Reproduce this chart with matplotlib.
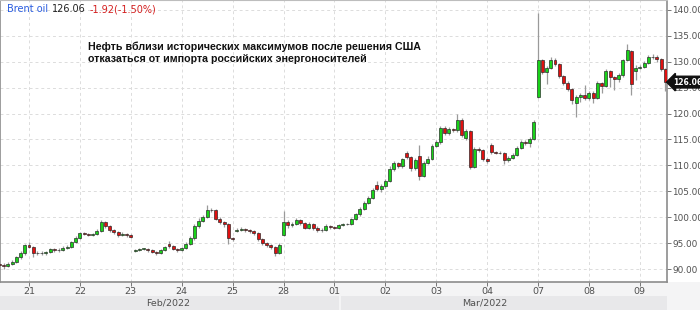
import numpy as np
import matplotlib
matplotlib.use("Agg")
import matplotlib.pyplot as plt
from matplotlib.patches import Rectangle

# ---- data (2-hour candles, Brent oil) ----
opens = [91.0, 90.8, 90.5, 91.0, 91.3, 92.3, 93.0, 94.6, 94.3, 93.0,
         93.1, 93.0, 93.2, 93.8, 93.6, 93.7, 94.1, 94.3, 95.2, 96.0,
         96.9, 96.8, 96.6, 96.7, 97.4, 99.0, 98.3, 97.5, 97.2, 96.6,
         96.8, 96.5, 93.5, 93.7, 93.9, 93.9, 93.6, 93.3, 93.1, 93.6,
         94.8, 94.4, 93.9, 93.6, 94.0, 94.9, 95.9, 98.3, 99.3, 100.0,
         101.3, 101.4, 99.7, 99.0, 98.6, 96.0, 97.3, 97.6, 97.8, 97.5,
         97.3, 96.9, 95.8, 95.0, 94.6, 94.3, 93.0, 96.6, 99.1, 98.4,
         98.7, 99.4, 98.9, 98.0, 98.7, 98.0, 97.6, 97.5, 98.3, 98.1,
         98.0, 98.5, 98.6, 98.7, 99.6, 100.6, 101.5, 102.8, 103.7, 106.2,
         105.5, 106.0, 107.0, 109.3, 110.4, 109.8, 112.3, 111.6, 109.5, 111.8,
         108.0, 110.5, 111.3, 113.8, 114.5, 117.2, 116.2, 117.0, 116.8, 118.8,
         115.2, 116.6, 109.6, 113.2, 113.0, 111.3, 114.0, 112.5, 112.4, 112.4,
         111.0, 111.5, 112.0, 113.4, 114.5, 114.4, 115.0, 123.2, 130.3, 128.0,
         128.8, 130.4, 129.6, 127.2, 125.9, 124.8, 122.0, 123.2, 123.6, 123.0,
         124.0, 123.0, 125.8, 125.4, 128.2, 127.0, 126.6, 127.4, 130.3, 132.0,
         128.2, 128.8, 129.0, 129.7, 130.9, 131.0, 130.5, 128.5]
closes = [90.8, 90.5, 91.0, 91.3, 92.3, 93.0, 94.6, 94.3, 93.0, 93.1,
          93.0, 93.2, 93.8, 93.6, 93.7, 94.1, 94.3, 95.2, 96.0, 96.9,
          96.8, 96.6, 96.7, 97.4, 99.0, 98.3, 97.5, 97.2, 96.6, 96.8,
          96.5, 96.2, 93.7, 93.9, 93.9, 93.6, 93.3, 93.1, 93.6, 94.2,
          94.4, 93.9, 93.6, 94.0, 94.9, 95.9, 98.3, 99.3, 100.0, 101.3,
          101.4, 99.7, 99.0, 98.6, 96.0, 95.7, 97.6, 97.8, 97.5, 97.3,
          96.9, 95.8, 95.0, 94.6, 94.3, 93.0, 94.7, 99.1, 98.4, 98.7,
          99.4, 98.9, 98.0, 98.7, 98.0, 97.6, 97.5, 98.3, 98.1, 98.0,
          98.5, 98.6, 98.7, 99.6, 100.6, 101.5, 102.8, 103.7, 105.2, 105.5,
          106.0, 107.0, 109.3, 110.4, 109.8, 111.2, 111.6, 109.5, 111.0, 108.0,
          110.5, 111.3, 113.8, 114.5, 117.2, 116.2, 117.0, 116.8, 118.8, 115.8,
          116.6, 109.6, 113.2, 113.0, 111.3, 110.8, 112.5, 112.4, 112.4, 111.0,
          111.5, 112.0, 113.4, 114.5, 114.4, 115.0, 118.4, 130.3, 128.0, 128.8,
          130.4, 129.6, 127.2, 125.9, 124.8, 122.6, 123.2, 123.6, 123.0, 124.0,
          123.0, 125.8, 125.4, 128.2, 127.0, 126.6, 127.4, 130.3, 132.2, 125.6,
          128.8, 129.0, 129.7, 130.9, 131.0, 130.5, 128.5, 126.06]
highs = [91.3, 91.1, 91.3, 91.8, 92.6, 93.5, 94.9, 95.2, 94.5, 93.5,
         93.4, 93.5, 94.1, 94.0, 94.0, 94.4, 94.6, 95.5, 96.3, 97.2,
         97.2, 97.0, 97.0, 97.7, 99.4, 99.2, 98.5, 97.8, 97.4, 97.1,
         97.0, 96.8, 93.9, 94.1, 94.1, 94.0, 93.8, 93.5, 93.9, 94.5,
         95.4, 94.6, 94.1, 94.3, 95.2, 96.3, 98.6, 99.9, 100.5, 102.3,
         101.8, 101.6, 100.1, 99.3, 98.8, 96.1, 97.9, 98.1, 98.0, 97.7,
         97.5, 97.1, 96.0, 95.3, 94.9, 94.5, 95.0, 101.2, 99.4, 99.1,
         99.8, 99.6, 99.1, 99.1, 98.9, 98.3, 97.9, 98.6, 98.5, 98.3,
         98.7, 98.8, 98.9, 99.9, 100.9, 101.9, 103.2, 104.1, 105.6, 106.9,
         106.4, 107.4, 109.8, 110.9, 110.6, 111.5, 112.8, 111.9, 111.4, 114.0,
         110.9, 111.8, 114.2, 114.9, 117.6, 117.5, 117.4, 117.3, 120.0, 119.1,
         117.0, 116.9, 113.6, 113.5, 113.2, 111.5, 114.3, 112.7, 112.7, 112.6,
         111.9, 112.4, 113.8, 114.9, 114.8, 115.4, 118.8, 139.4, 130.6, 129.2,
         130.9, 130.7, 129.8, 127.4, 126.2, 125.0, 123.6, 124.0, 125.5, 124.4,
         124.3, 126.2, 126.1, 128.5, 128.4, 127.3, 127.8, 130.6, 133.5, 132.3,
         129.3, 129.4, 130.1, 131.3, 131.5, 131.2, 130.7, 128.7]
lows = [90.3, 90.0, 90.3, 90.8, 91.1, 92.0, 92.8, 94.0, 92.4, 92.7,
        92.7, 92.8, 93.0, 93.3, 93.3, 93.5, 93.9, 94.1, 95.0, 95.8,
        96.5, 96.3, 96.3, 96.5, 97.2, 98.0, 97.2, 96.8, 96.1, 96.3,
        96.2, 95.9, 93.3, 93.5, 93.6, 93.2, 93.0, 92.8, 92.9, 93.4,
        94.1, 93.6, 93.2, 93.4, 93.8, 94.7, 95.6, 98.0, 99.0, 99.8,
        101.0, 99.4, 98.6, 98.2, 94.9, 95.4, 97.1, 97.4, 97.2, 97.0,
        96.6, 95.5, 94.7, 94.2, 93.9, 92.6, 92.9, 96.4, 98.0, 98.1,
        98.5, 98.5, 97.7, 97.8, 97.6, 97.2, 97.1, 97.3, 97.8, 97.7,
        97.8, 98.3, 98.4, 98.5, 99.4, 100.3, 101.3, 102.5, 103.5, 105.0,
        104.8, 105.7, 106.8, 109.0, 109.4, 109.5, 111.2, 108.9, 109.2, 107.2,
        107.7, 110.2, 111.0, 113.5, 114.2, 115.8, 115.9, 116.4, 116.5, 115.4,
        114.9, 109.3, 109.4, 112.6, 110.9, 110.5, 112.2, 112.1, 112.1, 110.3,
        110.7, 111.2, 111.8, 113.1, 114.0, 113.6, 114.8, 123.0, 127.6, 125.6,
        128.6, 129.2, 126.8, 125.5, 124.4, 121.8, 119.3, 122.3, 122.6, 122.7,
        122.0, 122.8, 124.0, 125.2, 125.2, 124.5, 126.0, 127.1, 130.1, 123.6,
        126.5, 128.5, 128.8, 129.5, 130.6, 130.0, 128.2, 124.4]
day_labels = ["21", "22", "23", "24", "25", "28", "01", "02", "03", "04", "07", "08", "09"]
month_labels = ["Feb/2022", "Mar/2022"]
y_ticks = [90, 95, 100, 105, 110, 115, 120, 125, 130, 135, 140]
title_name = "Brent oil"
last_price = "126.06"
change_text = "-1.92(-1.50%)"
headline = ("Нефть вблизи исторических максимумов после решения США\n"
            "отказаться от импорта российских энергоносителей")

CANDLES_PER_DAY = 12
FIRST_DAY_INDEX = 7

W, H = 700, 310
fig = plt.figure(figsize=(W / 100, H / 100), dpi=100, facecolor="white")

# bottom bands
fig.patches.append(Rectangle((0, 0), 1, 28 / H, transform=fig.transFigure,
                             facecolor="#f4f4f5", edgecolor="none", zorder=-10))
fig.patches.append(Rectangle((0, 0), 339 / W, 14 / H, transform=fig.transFigure,
                             facecolor="#e8e8ea", edgecolor="none", zorder=-9))
fig.patches.append(Rectangle((341 / W, 0), (667 - 341) / W, 14 / H, transform=fig.transFigure,
                             facecolor="#e8e8ea", edgecolor="none", zorder=-9))

ax = fig.add_axes([0, 28 / H, 667 / W, 1 - 28 / H])
ax.set_facecolor("white")

o = np.array(opens)
c = np.array(closes)
hi = np.array(highs)
lo = np.array(lows)
x = np.arange(len(c))

up = c >= o
body_bottom = np.minimum(o, c)
body_h = np.maximum(np.abs(c - o), 0.08)
colors = np.where(up, "#19d219", "#e01010")

ax.vlines(x, lo, hi, color="#9a9a9a", linewidth=0.9, zorder=2)
ax.bar(x, body_h, bottom=body_bottom, width=0.7, color=colors,
       edgecolor="#202020", linewidth=0.45, zorder=3)

tick_pos = [FIRST_DAY_INDEX + CANDLES_PER_DAY * k for k in range(len(day_labels))]
ax.set_xticks(tick_pos)
ax.set_xticklabels(day_labels)
ax.set_xlim(0.16, 157.4)
ax.set_ylim(87.5, 141.9)
ax.set_yticks(y_ticks)
ax.set_yticklabels([f"{v:.2f}" for v in y_ticks])
ax.yaxis.tick_right()

ax.grid(True, color="#dcdcdc", linestyle=(0, (3, 3)), linewidth=0.7)
ax.set_axisbelow(True)

for side in ["left", "right", "bottom"]:
    ax.spines[side].set_color("#8c8c8c")
    ax.spines[side].set_linewidth(1.2)
ax.spines["top"].set_color("#bdbdbd")
ax.spines["top"].set_linewidth(0.8)

ax.tick_params(axis="y", right=True, left=False, direction="out", length=3,
               width=0.7, color="#777777", labelsize=6.4, labelcolor="#505050", pad=1)
ax.tick_params(axis="x", direction="out", length=3, width=0.7, color="#777777",
               labelsize=6.8, labelcolor="#505050", pad=0.8)

# month labels
fig.text(168 / W, 7 / H, month_labels[0], ha="center", va="center",
         fontsize=6.8, color="#505050")
fig.text(485 / W, 7 / H, month_labels[1], ha="center", va="center",
         fontsize=6.8, color="#505050")

# title line
tx = 7
t1 = fig.text(tx / W, 1 - 9 / H, title_name, ha="left", va="center",
              fontsize=7, color="#2a5de0")
fig.canvas.draw()
r = fig.canvas.get_renderer()
bb = t1.get_window_extent(r)
t2 = fig.text((bb.x1 + 4) / W, 1 - 9 / H, last_price, ha="left", va="center",
              fontsize=7, color="#222222")
bb2 = t2.get_window_extent(r)
fig.text((bb2.x1 + 4) / W, 1 - 9 / H, change_text, ha="left", va="center",
         fontsize=7, color="#d42020")

# headline
fig.text(88 / W, 1 - 53 / H, headline, ha="left", va="center", fontsize=7.7,
         fontweight="bold", family=["Liberation Sans", "DejaVu Sans"],
         color="#111111", linespacing=1.3)

# last price tag
ax.annotate(last_price, xy=(1.0, closes[-1]), xycoords=("axes fraction", "data"),
            xytext=(4.2, 0), textcoords="offset points", ha="left", va="center",
            fontsize=5.5, color="white", fontweight="bold",
            bbox=dict(boxstyle="larrow,pad=0.18", facecolor="#111111",
                      edgecolor="#111111"), annotation_clip=False, zorder=10)

fig.savefig("out.png", dpi=100, facecolor="white")
